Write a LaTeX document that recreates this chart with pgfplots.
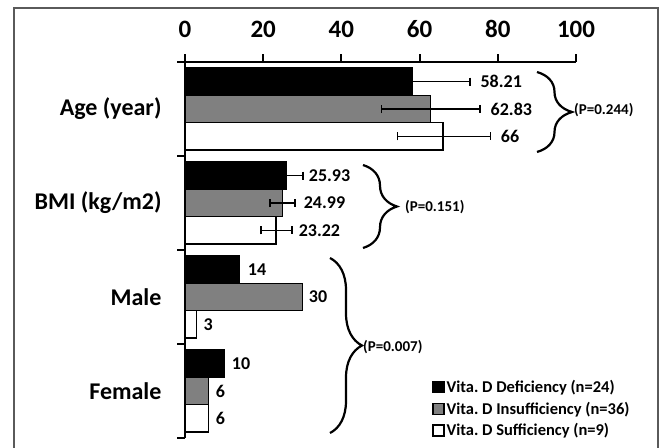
\documentclass[border=0pt]{standalone}
\usepackage{fontspec}
\setmainfont{Carlito}
\usepackage{pgfplots}
\usepackage{pgfplotstable}
\pgfplotsset{compat=1.18}
\usetikzlibrary{decorations.pathreplacing}

% bars: x = value, y = bar centre (category k spans k..k+1)
\pgfplotstableread{
x y
58.21 3.79
25.93 2.79
14 1.79
10 0.79
}\defic
\pgfplotstableread{
x y
62.83 3.5
24.99 2.5
30 1.5
6 0.5
}\insuf
\pgfplotstableread{
x y
66 3.21
23.22 2.21
3 1.21
6 0.21
}\suff
% error bars (Age, BMI only)
\pgfplotstableread{
x y err
58.21 3.79 14.7
25.93 2.79 4.3
}\deficerr
\pgfplotstableread{
x y err
62.83 3.5 12.6
24.99 2.5 3.2
}\insuferr
\pgfplotstableread{
x y err
66.25 3.21 11.85
23.4 2.21 4.0
}\sufferr
% value labels, placed right of the error bars
\pgfplotstableread{
x y label
75.4 3.79 58.21
78.0 3.5 62.83
80.6 3.21 66
31.5 2.79 25.93
30.2 2.5 24.99
28.9 2.21 23.22
15.9 1.79 14
31.5 1.5 30
4.6 1.21 3
11.8 0.79 10
7.7 0.5 6
7.7 0.21 6
}\labels

\definecolor{midgray}{RGB}{128,128,128}
\definecolor{framegray}{RGB}{90,90,90}

\begin{document}
\frenchspacing
\begin{tikzpicture}[x=1pt,y=1pt]
\useasboundingbox (0,0) rectangle (660,447);
\draw[framegray, line width=1.5pt] (14,-5) -- (14,439) -- (658,439) -- (658,-5);

\begin{axis}[
  at={(185pt,9pt)}, anchor=south west,
  scale only axis, width=391pt, height=376pt,
  xmin=0, xmax=100, ymin=0, ymax=4,
  clip=false,
  axis x line*=top, axis y line*=left,
  axis line style={line width=2pt, -},
  tick align=outside, major tick length=8pt,
  tick style={line width=2pt, black},
  xtick={0,20,...,100},
  ytick={0,1,2,3,4}, yticklabels={},
  extra y ticks={0.5,1.5,2.5,3.5},
  extra y tick labels={Female,Male,BMI (kg/m2),Age (year)},
  extra y tick style={tick style={draw=none}},
  /pgf/number format/assume math mode=true,
  xticklabel style={font=\fontsize{25}{25}\selectfont\bfseries, yshift=13pt},
  yticklabel style={font=\fontsize{24}{24}\selectfont\bfseries, xshift=-12pt},
  legend style={at={(axis cs:63.2,0.64)}, anchor=north west, draw=none, fill=none,
    font=\fontsize{16.5}{16.5}\selectfont\bfseries, inner sep=0pt, row sep=4pt,
    nodes={inner sep=2pt}},
  legend cell align=left,
  legend image code/.code={\draw[#1, line width=1.2pt] (0pt,-5.5pt) rectangle (11pt,5.5pt);},
  every axis plot/.append style={line width=1.5pt},
]
\addplot[xbar, bar width=0.29, bar shift=0pt, fill=black, draw=black] table {\defic};
\addlegendentry{Vita. D Deficiency (n=24)}
\addplot[xbar, bar width=0.29, bar shift=0pt, fill=midgray, draw=black] table {\insuf};
\addlegendentry{Vita. D Insufficiency (n=36)}
\addplot[xbar, bar width=0.29, bar shift=0pt, fill=white, draw=black] table {\suff};
\addlegendentry{Vita. D Sufficiency (n=9)}

\pgfplotsset{errstyle/.style={forget plot, draw=none, mark=none,
  error bars/.cd, x dir=both, x explicit,
  error mark=|,
  error bar style={draw=black, line width=1.5pt},
  error mark options={draw=black, mark size=4pt, line width=1.5pt, rotate=0}}}
\addplot[errstyle] table[x error=err] {\deficerr};
\addplot[errstyle] table[x error=err] {\insuferr};
\addplot[errstyle] table[x error=err] {\sufferr};

\addplot[forget plot, draw=none, mark=none, nodes near coords, point meta=explicit symbolic,
  nodes near coords style={anchor=west, inner sep=0pt, black,
    font=\fontsize{18}{18}\selectfont\bfseries}]
  table[meta=label] {\labels};
\end{axis}

\begin{scope}[line width=2.2pt, decoration={brace, amplitude=35pt}]
\draw[decorate] (537,375) -- (537,295);
\draw[decorate, decoration={brace, amplitude=34pt}] (363,282) -- (363,199);
\draw[decorate, decoration={brace, amplitude=32pt}] (330,189) -- (330,14);
\end{scope}
\begin{scope}[font=\fontsize{15}{15}\selectfont\bfseries, inner sep=0pt]
\node[anchor=west] at (574,337) {(P=0.244)};
\node[anchor=west] at (405,240) {(P=0.151)};
\node[anchor=west] at (363,100) {(P=0.007)};
\end{scope}
\end{tikzpicture}
\end{document}
